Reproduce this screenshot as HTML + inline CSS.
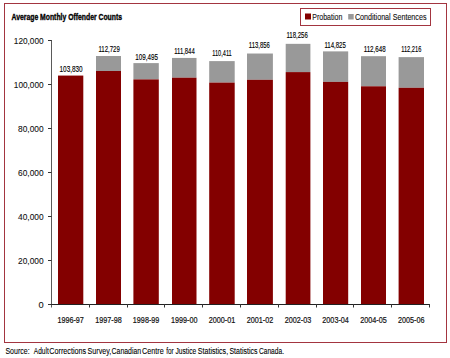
<!DOCTYPE html>
<html><head><meta charset="utf-8">
<style>
html,body{margin:0;padding:0;background:#fff;width:450px;height:358px;overflow:hidden}
svg{display:block}
text{font-family:"Liberation Sans",sans-serif}
.dl{font-size:9px;fill:#000;stroke:#000;stroke-width:0.15px}
.xl{font-size:8.7px;fill:#111;stroke:#111;stroke-width:0.2px}
.yl{font-size:9.5px;fill:#111;stroke:#111;stroke-width:0.1px}
.tt{font-size:9px;font-weight:bold;fill:#000;stroke:#000;stroke-width:0.35px}
.lg{font-size:9.3px;fill:#111;stroke:#111;stroke-width:0.12px}
.src{font-size:8.5px;fill:#000;stroke:#000;stroke-width:0.1px}
</style></head><body>
<svg width="450" height="358" viewBox="0 0 450 358">
<rect x="4.5" y="3.5" width="442" height="339" fill="#fff" stroke="#a33540" stroke-width="1"/>
<text x="11.5" y="20" class="tt" textLength="110.5" lengthAdjust="spacingAndGlyphs">Average Monthly Offender Counts</text>
<rect x="300.5" y="8.5" width="130" height="17" fill="#fff" stroke="#a33540" stroke-width="1"/>
<rect x="305" y="13.5" width="6" height="6" fill="#830000"/>
<text x="312.3" y="19.5" class="lg" textLength="30" lengthAdjust="spacingAndGlyphs">Probation</text>
<rect x="348.2" y="14" width="5.5" height="5.5" fill="#999999"/>
<text x="354.9" y="19.5" class="lg" textLength="71.6" lengthAdjust="spacingAndGlyphs">Conditional Sentences</text>
<rect x="58.00" y="75.57" width="25.3" height="228.43" fill="#830000"/>
<text x="59.50" y="72.10" class="dl" textLength="23.20" lengthAdjust="spacingAndGlyphs">103,830</text>
<text x="70.65" y="322.9" text-anchor="middle" class="xl" textLength="26.5" lengthAdjust="spacingAndGlyphs">1996-97</text>
<rect x="96.00" y="56.00" width="25" height="15.00" fill="#999999"/>
<rect x="96.00" y="71.00" width="25" height="233.00" fill="#830000"/>
<text x="98.40" y="52.20" class="dl" textLength="21.40" lengthAdjust="spacingAndGlyphs">112,729</text>
<text x="108.50" y="322.9" text-anchor="middle" class="xl" textLength="26.5" lengthAdjust="spacingAndGlyphs">1997-98</text>
<rect x="133.40" y="63.11" width="25.4" height="16.29" fill="#999999"/>
<rect x="133.40" y="79.40" width="25.4" height="224.60" fill="#830000"/>
<text x="135.30" y="59.50" class="dl" textLength="22.80" lengthAdjust="spacingAndGlyphs">109,495</text>
<text x="146.10" y="322.9" text-anchor="middle" class="xl" textLength="26.5" lengthAdjust="spacingAndGlyphs">1998-99</text>
<rect x="172.00" y="57.94" width="24.5" height="19.76" fill="#999999"/>
<rect x="172.00" y="77.70" width="24.5" height="226.30" fill="#830000"/>
<text x="174.20" y="53.50" class="dl" textLength="20.50" lengthAdjust="spacingAndGlyphs">111,844</text>
<text x="184.25" y="322.9" text-anchor="middle" class="xl" textLength="26.5" lengthAdjust="spacingAndGlyphs">1999-00</text>
<rect x="209.20" y="61.10" width="25.5" height="21.50" fill="#999999"/>
<rect x="209.20" y="82.60" width="25.5" height="221.40" fill="#830000"/>
<text x="212.30" y="56.20" class="dl" textLength="19.40" lengthAdjust="spacingAndGlyphs">110,411</text>
<text x="221.95" y="322.9" text-anchor="middle" class="xl" textLength="26.5" lengthAdjust="spacingAndGlyphs">2000-01</text>
<rect x="247.00" y="53.52" width="25.9" height="26.28" fill="#999999"/>
<rect x="247.00" y="79.80" width="25.9" height="224.20" fill="#830000"/>
<text x="248.80" y="48.20" class="dl" textLength="21.00" lengthAdjust="spacingAndGlyphs">113,856</text>
<text x="259.95" y="322.9" text-anchor="middle" class="xl" textLength="26.5" lengthAdjust="spacingAndGlyphs">2001-02</text>
<rect x="285.70" y="43.84" width="24.7" height="28.26" fill="#999999"/>
<rect x="285.70" y="72.10" width="24.7" height="231.90" fill="#830000"/>
<text x="286.40" y="38.20" class="dl" textLength="21.40" lengthAdjust="spacingAndGlyphs">118,256</text>
<text x="298.05" y="322.9" text-anchor="middle" class="xl" textLength="26.5" lengthAdjust="spacingAndGlyphs">2002-03</text>
<rect x="323.00" y="51.38" width="25.2" height="30.52" fill="#999999"/>
<rect x="323.00" y="81.90" width="25.2" height="222.10" fill="#830000"/>
<text x="324.40" y="47.50" class="dl" textLength="21.40" lengthAdjust="spacingAndGlyphs">114,825</text>
<text x="335.60" y="322.9" text-anchor="middle" class="xl" textLength="26.5" lengthAdjust="spacingAndGlyphs">2003-04</text>
<rect x="361.00" y="56.17" width="25" height="30.13" fill="#999999"/>
<rect x="361.00" y="86.30" width="25" height="217.70" fill="#830000"/>
<text x="363.70" y="51.50" class="dl" textLength="21.90" lengthAdjust="spacingAndGlyphs">112,648</text>
<text x="373.50" y="322.9" text-anchor="middle" class="xl" textLength="26.5" lengthAdjust="spacingAndGlyphs">2004-05</text>
<rect x="398.60" y="57.12" width="25.4" height="30.68" fill="#999999"/>
<rect x="398.60" y="87.80" width="25.4" height="216.20" fill="#830000"/>
<text x="401.20" y="51.50" class="dl" textLength="20.10" lengthAdjust="spacingAndGlyphs">112,216</text>
<text x="411.30" y="322.9" text-anchor="middle" class="xl" textLength="26.5" lengthAdjust="spacingAndGlyphs">2005-06</text>
<line x1="51.5" y1="40" x2="51.5" y2="307.5" stroke="#5a5a5a" stroke-width="1"/>
<line x1="48" y1="304.5" x2="429" y2="304.5" stroke="#222" stroke-width="1"/>
<line x1="48" y1="304.5" x2="51.5" y2="304.5" stroke="#333" stroke-width="1"/>
<text x="43.6" y="307.8" text-anchor="end" class="yl" textLength="5.2" lengthAdjust="spacingAndGlyphs">0</text>
<line x1="48" y1="260.5" x2="51.5" y2="260.5" stroke="#333" stroke-width="1"/>
<text x="43.6" y="263.8" text-anchor="end" class="yl" textLength="25.5" lengthAdjust="spacingAndGlyphs">20,000</text>
<line x1="48" y1="216.5" x2="51.5" y2="216.5" stroke="#333" stroke-width="1"/>
<text x="43.6" y="219.8" text-anchor="end" class="yl" textLength="25.5" lengthAdjust="spacingAndGlyphs">40,000</text>
<line x1="48" y1="172.5" x2="51.5" y2="172.5" stroke="#333" stroke-width="1"/>
<text x="43.6" y="175.8" text-anchor="end" class="yl" textLength="25.5" lengthAdjust="spacingAndGlyphs">60,000</text>
<line x1="48" y1="128.5" x2="51.5" y2="128.5" stroke="#333" stroke-width="1"/>
<text x="43.6" y="131.8" text-anchor="end" class="yl" textLength="25.5" lengthAdjust="spacingAndGlyphs">80,000</text>
<line x1="48" y1="84.5" x2="51.5" y2="84.5" stroke="#333" stroke-width="1"/>
<text x="43.6" y="87.8" text-anchor="end" class="yl" textLength="29.8" lengthAdjust="spacingAndGlyphs">100,000</text>
<line x1="48" y1="40.5" x2="51.5" y2="40.5" stroke="#333" stroke-width="1"/>
<text x="43.6" y="43.8" text-anchor="end" class="yl" textLength="29.8" lengthAdjust="spacingAndGlyphs">120,000</text>
<line x1="89.5" y1="304" x2="89.5" y2="307.5" stroke="#333" stroke-width="1"/>
<line x1="127.5" y1="304" x2="127.5" y2="307.5" stroke="#333" stroke-width="1"/>
<line x1="164.5" y1="304" x2="164.5" y2="307.5" stroke="#333" stroke-width="1"/>
<line x1="202.5" y1="304" x2="202.5" y2="307.5" stroke="#333" stroke-width="1"/>
<line x1="240.5" y1="304" x2="240.5" y2="307.5" stroke="#333" stroke-width="1"/>
<line x1="278.5" y1="304" x2="278.5" y2="307.5" stroke="#333" stroke-width="1"/>
<line x1="316.5" y1="304" x2="316.5" y2="307.5" stroke="#333" stroke-width="1"/>
<line x1="353.5" y1="304" x2="353.5" y2="307.5" stroke="#333" stroke-width="1"/>
<line x1="391.5" y1="304" x2="391.5" y2="307.5" stroke="#333" stroke-width="1"/>
<line x1="429.5" y1="304" x2="429.5" y2="307.5" stroke="#333" stroke-width="1"/>
<text x="5.4" y="354" class="src" textLength="24.2" lengthAdjust="spacingAndGlyphs">Source:</text>
<text x="33.8" y="354" class="src" textLength="14.9" lengthAdjust="spacingAndGlyphs">Adult</text>
<text x="49.3" y="354" class="src" textLength="36.9" lengthAdjust="spacingAndGlyphs">Corrections</text>
<text x="87.6" y="354" class="src" textLength="23.6" lengthAdjust="spacingAndGlyphs">Survey,</text>
<text x="111.6" y="354" class="src" textLength="29.6" lengthAdjust="spacingAndGlyphs">Canadian</text>
<text x="142.1" y="354" class="src" textLength="21.6" lengthAdjust="spacingAndGlyphs">Centre</text>
<text x="166.3" y="354" class="src" textLength="7.4" lengthAdjust="spacingAndGlyphs">for</text>
<text x="175.4" y="354" class="src" textLength="20.8" lengthAdjust="spacingAndGlyphs">Justice</text>
<text x="197.8" y="354" class="src" textLength="30.3" lengthAdjust="spacingAndGlyphs">Statistics,</text>
<text x="229.4" y="354" class="src" textLength="28.2" lengthAdjust="spacingAndGlyphs">Statistics</text>
<text x="258.9" y="354" class="src" textLength="25.1" lengthAdjust="spacingAndGlyphs">Canada.</text>
</svg>
</body></html>
